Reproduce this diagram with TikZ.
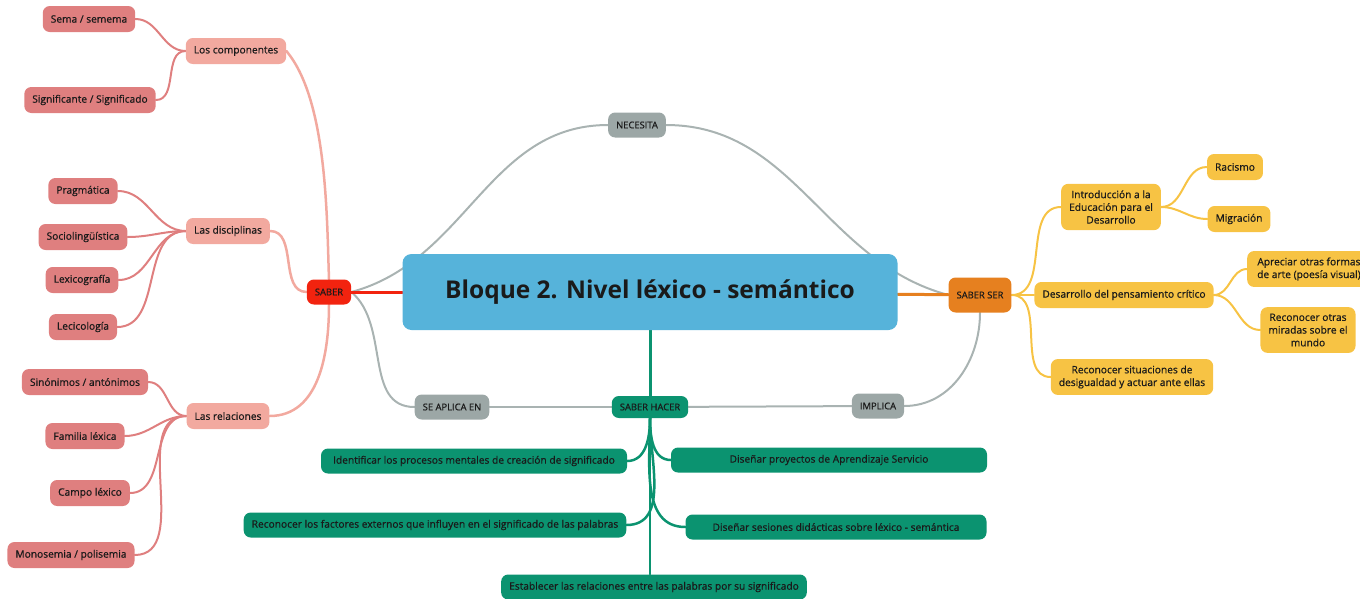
\documentclass[tikz,border=0pt]{standalone}
\usepackage{fontspec}
\setmainfont{Open Sans}[UprightFeatures={FakeBold=0.7}]
\usetikzlibrary{positioning, backgrounds}

\definecolor{centro}{HTML}{56B3DA}
\definecolor{gris}{HTML}{9CA7A6}
\definecolor{grisline}{HTML}{A9B3B2}
\definecolor{rojo}{HTML}{F2230F}
\definecolor{naranja}{HTML}{E6801F}
\definecolor{salmon}{HTML}{F2A99F}
\definecolor{rosa}{HTML}{DF7F7F}
\definecolor{amarillo}{HTML}{F7C344}
\definecolor{verde}{HTML}{0B9370}
\definecolor{texto}{HTML}{1A1A1A}

\tikzset{
  box/.style={rounded corners=7pt, text=texto, inner xsep=8pt, inner ysep=6.5pt,
    minimum height=26pt, align=center, font=\fontsize{10.2}{12.7}\selectfont},
  topic/.style={box, fill=centro, minimum width=495pt, minimum height=76pt,
    rounded corners=9pt, font=\fontsize{24.5}{28}\selectfont\bfseries},
  relbox/.style={box, fill=gris, minimum height=25pt, font=\fontsize{9.4}{11}\selectfont},
  areabox/.style={box, minimum height=25pt, font=\fontsize{9.4}{11}\selectfont},
  subbox/.style={box, fill=salmon},
  leafbox/.style={box, fill=rosa},
  serbox/.style={box, fill=amarillo},
  hacerbox/.style={box, fill=verde, minimum height=25pt, font=\fontsize{10.2}{12}\selectfont},
  conn/.style={line width=2pt, line cap=round},
  greyline/.style={conn, draw=grisline},
  redline/.style={conn, draw=rojo, line width=3pt},
  orangeline/.style={conn, draw=naranja, line width=3pt},
  greenline/.style={conn, draw=verde, line width=3pt},
  subline/.style={conn, draw=salmon, line width=2.5pt},
  leafline/.style={conn, draw=rosa},
  yellowline/.style={conn, draw=amarillo},
}

\begin{document}
\begin{tikzpicture}[x=1pt,y=1pt]
  \useasboundingbox (0,0) rectangle (1360,-598);

  % centro y ramas principales
  \node[topic] (bloque) at (650,-292) {Bloque 2. Nivel léxico - semántico};
  \node[relbox] (necesita) at (637,-125) {NECESITA};
  \node[areabox, fill=rojo] (saber) at (329,-292) {SABER};
  \node[areabox, fill=naranja, minimum height=35pt] (ser) at (980,-295) {SABER SER};
  \node[areabox, fill=verde, minimum height=22pt] (hacer) at (650,-407) {SABER HACER};
  \node[relbox] (aplica) at (452,-407) {SE APLICA EN};
  \node[relbox] (implica) at (878,-406) {IMPLICA};

  % SABER
  \node[subbox] (comp) at (236,-51) {Los componentes};
  \node[subbox] (disc) at (228,-231) {Las disciplinas};
  \node[subbox] (relac) at (228,-416) {Las relaciones};

  \node[leafbox] (sema) at (89,-19) {Sema / semema};
  \node[leafbox] (signif) at (90,-100) {Significante / Significado};
  \node[leafbox] (prag) at (83,-191) {Pragmática};
  \node[leafbox] (socio) at (83,-237) {Sociolingüística};
  \node[leafbox] (lexg) at (82,-280) {Lexicografía};
  \node[leafbox] (lecic) at (83,-327) {Lecicología};
  \node[leafbox] (sinon) at (85,-382) {Sinónimos / antónimos};
  \node[leafbox] (fam) at (85,-436) {Familia léxica};
  \node[leafbox] (campo) at (90,-493) {Campo léxico};
  \node[leafbox] (mono) at (71,-555) {Monosemia / polisemia};

  % SABER SER
  \node[serbox] (intro) at (1111,-207) {Introducción a la\\Educación para el\\Desarrollo};
  \node[serbox] (pens) at (1124,-295) {Desarrollo del pensamiento crítico};
  \node[serbox] (desig) at (1132,-377) {Reconocer situaciones de\\desigualdad y actuar ante ellas};
  \node[serbox] (racismo) at (1235,-167) {Racismo};
  \node[serbox] (migra) at (1239,-219) {Migración};
  \node[serbox, anchor=west, inner xsep=10pt] (arte) at (1247,-269) {Apreciar otras formas\\de arte (poesía visual)};
  \node[serbox] (miradas) at (1308,-330) {Reconocer otras\\miradas sobre el\\mundo};

  % SABER HACER
  \node[hacerbox, minimum width=306pt] (ident) at (474,-461) {Identificar los procesos mentales de creación de significado};
  \node[hacerbox, minimum width=316pt] (proy) at (829,-460) {Diseñar proyectos de Aprendizaje Servicio};
  \node[hacerbox, minimum width=381pt] (fact) at (435,-525) {Reconocer los factores externos que influyen en el significado de las palabras};
  \node[hacerbox, minimum width=301pt] (ses) at (836,-527) {Diseñar sesiones didácticas sobre léxico - semántica};
  \node[hacerbox, minimum width=304pt] (estab) at (654,-587) {Establecer las relaciones entre las palabras por su significado};

  \begin{scope}[on background layer]
    \path[greyline]
      (saber.east) edge[out=15,in=180] (necesita.west)
      (necesita.east) edge[out=0,in=165] (ser.west)
      (saber.east) edge[out=-40,in=180] (aplica.west)
      (aplica) edge (hacer)
      (implica) edge (hacer)
      (ser.south) edge[out=-90,in=0] (implica.east);

    \path (bloque) edge[redline] (saber)
          (bloque) edge[orangeline] (ser)
          (bloque.south) edge[greenline] (hacer.north);

    \path[subline]
      (saber.north) edge[out=92,in=-50,looseness=0.7] (comp.east)
      (saber.west) edge[out=180,in=0] (disc.east)
      (saber.south) edge[out=-90,in=0] (relac.east);

    \path[leafline]
      (comp.west) edge[out=180,in=0] (sema.east)
                  edge[out=180,in=0] (signif.east)
      (disc.west) edge[out=180,in=0] (prag.east)
                  edge[out=180,in=0] (socio.east)
                  edge[out=180,in=0] (lexg.east)
                  edge[out=180,in=0] (lecic.east)
      (relac.west) edge[out=180,in=0] (sinon.east)
                   edge[out=180,in=0] (fam.east)
                   edge[out=180,in=0] (campo.east)
                   edge[out=180,in=0] (mono.east);

    \path[yellowline]
      (ser.east) edge[out=0,in=180] (intro.west)
                 edge[out=0,in=180] (pens.west)
                 edge[out=0,in=180] (desig.west)
      (intro.east) edge[out=0,in=180] (racismo.west)
                   edge[out=0,in=180] (migra.west)
      (pens.east) edge[out=0,in=180] (arte.west)
                  edge[out=0,in=180] (miradas.west);

    \path[greenline, line width=2.5pt]
      (hacer.south) edge[out=-90,in=0] (ident.east)
                    edge[out=-90,in=180] (proy.west)
                    edge[out=-90,in=0] (fact.east)
                    edge[out=-90,in=180] (ses.west)
                    edge (estab.north -| hacer.south);
  \end{scope}
\end{tikzpicture}
\end{document}
